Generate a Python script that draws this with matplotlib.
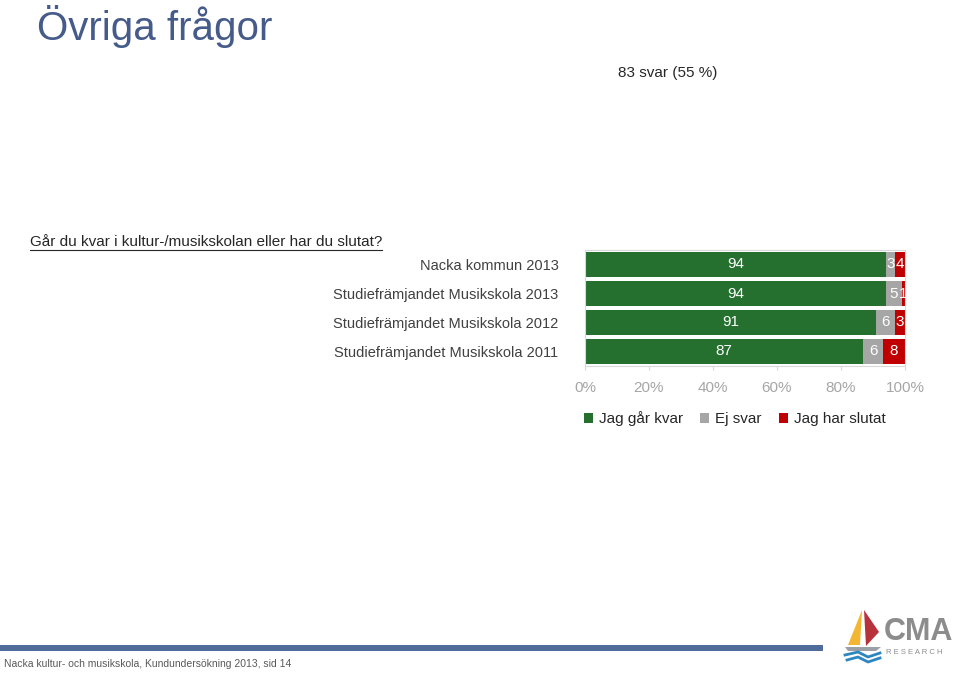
import matplotlib
matplotlib.use("Agg")
import matplotlib.pyplot as plt
from matplotlib.patches import Polygon, Rectangle
from matplotlib.lines import Line2D

plt.rcParams['font.family'] = ['Liberation Sans', 'DejaVu Sans']

categories = ["Nacka kommun 2013", "Studiefrämjandet Musikskola 2013",
              "Studiefrämjandet Musikskola 2012", "Studiefrämjandet Musikskola 2011"]
kvar = [94, 94, 91, 87]
ej_svar = [3, 5, 6, 6]
slutat = [4, 1, 3, 8]
series = [("Jag går kvar", kvar, "#25702F"),
          ("Ej svar", ej_svar, "#A6A6A6"),
          ("Jag har slutat", slutat, "#C00000")]
xticks = [0, 20, 40, 60, 80, 100]
xticklabels = ["0%", "20%", "40%", "60%", "80%", "100%"]

W, H = 960, 673
fig = plt.figure(figsize=(W / 100, H / 100), dpi=100)

def fx(px):
    return px / W

def fy(py):
    return 1 - py / H

# Title and header texts
fig.text(fx(37), fy(27), "Övriga frågor", fontsize=29, color="#455B8A", va="center", ha="left")
fig.text(fx(717), fy(73), "83 svar (55 %)", fontsize=11, color="#262626", va="center", ha="right")
q = fig.text(fx(30), fy(242), "Går du kvar i kultur-/musikskolan eller har du slutat?",
             fontsize=11, color="#262626", va="center", ha="left")
fig.canvas.draw()
bb = q.get_window_extent()
fig.add_artist(Line2D([bb.x0 / W, bb.x1 / W], [fy(250), fy(250)], color="#262626", lw=0.8))

# Chart axes
ax = fig.add_axes([fx(585), fy(366), fx(905) - fx(585), fy(250) - fy(366)])
ypos = list(range(len(categories)))
left = [0] * len(categories)
for name, vals, col in series:
    ax.barh(ypos, vals, left=left, height=0.83, color=col, label=name, clip_on=True)
    for i, (l, v) in enumerate(zip(left, vals)):
        cx = (l + 100) / 2 if l + v > 100 else l + v / 2
        ax.text(cx, i, str(v), color="white", ha="center", va="center", fontsize=11, clip_on=False)
    left = [a + b for a, b in zip(left, vals)]

ax.set_xlim(0, 100)
ax.set_ylim(len(categories) - 0.5, -0.5)
ax.set_yticks(ypos)
ax.set_yticklabels(categories, fontsize=10.5, color="#404040")
ax.tick_params(axis='y', length=0, pad=19)
ax.set_xticks(xticks)
ax.set_xticklabels(xticklabels, fontsize=11, color="#A6A6A6")
ax.tick_params(axis='x', length=3, color="#D9D9D9", pad=8)
for s in ax.spines.values():
    s.set_color("#D9D9D9")
    s.set_linewidth(0.8)

fig.legend(loc="center left", bbox_to_anchor=(fx(570), fy(419)), ncol=3, frameon=False,
           fontsize=11, handlelength=0.6, handleheight=0.6, handletextpad=0.4,
           columnspacing=1.1, labelcolor="#262626")

# Footer
fig.add_artist(Rectangle((0, fy(651)), fx(823), fy(645) - fy(651), color="#4F6B9C", lw=0))
fig.text(fx(4), fy(664), "Nacka kultur- och musikskola, Kundundersökning 2013, sid 14",
         fontsize=7.5, color="#595959", va="center", ha="left")

# Logo
fig.add_artist(Polygon([(fx(862), fy(610)), (fx(848), fy(645)), (fx(860), fy(645))],
                       closed=True, color="#F2B632", lw=0))
fig.add_artist(Polygon([(fx(864), fy(610)), (fx(879), fy(632)), (fx(866), fy(646))],
                       closed=True, color="#B8323C", lw=0))
fig.add_artist(Polygon([(fx(845), fy(647)), (fx(881), fy(647)), (fx(876), fy(651)), (fx(848), fy(651))],
                       closed=True, color="#9AA0A6", lw=0))
fig.add_artist(Line2D([fx(845), fx(858), fx(868), fx(880)], [fy(655), fy(652), fy(657), fy(653)],
                      color="#2E86C1", lw=2))
fig.add_artist(Line2D([fx(847), fx(858), fx(868), fx(880)], [fy(660), fy(657), fy(662), fy(658)],
                      color="#2E86C1", lw=2))
fig.text(fx(884), fy(647), "CMA", fontsize=22, fontweight="bold", color="#8C8C8C",
         va="bottom", ha="left")
fig.text(fx(886), fy(649), "R E S E A R C H", fontsize=5.5, color="#8C8C8C", va="top", ha="left")

fig.savefig("out.png", dpi=100)
